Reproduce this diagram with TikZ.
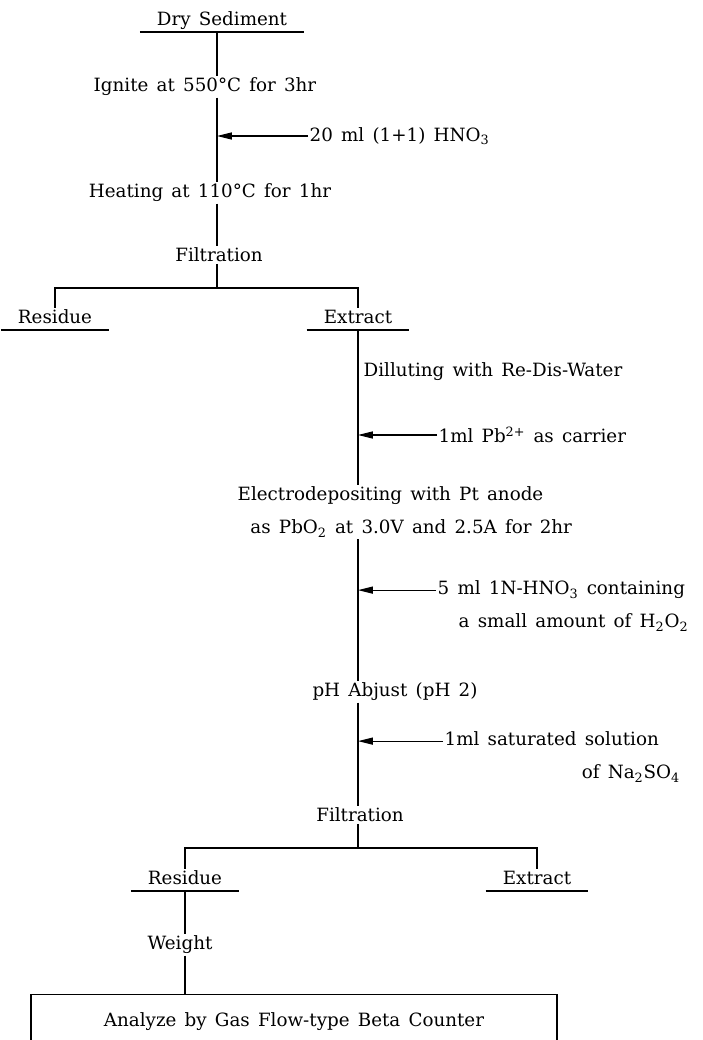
\documentclass[tikz,border=0pt]{standalone}
\usepackage{fontspec}
\setmainfont{DejaVu Serif}
\usetikzlibrary{arrows.meta}
\newcommand{\chartfont}{\fontsize{13}{23.5}\selectfont\spaceskip=0.45em plus 0.1em minus 0.05em\relax}

\begin{document}
\begin{tikzpicture}[
    x=0.025cm,y=-0.025cm,
    op/.style={font=\chartfont, inner sep=1pt},
    mat/.style={font=\chartfont, anchor=south, inner xsep=12pt, inner ysep=1.5pt,
      text height=9.5pt, text depth=3pt},
    add/.style={font=\chartfont, anchor=west, align=left, inner sep=1pt},
    flow/.style={line width=0.9pt},
    feed/.style={line width=0.8pt, -{Triangle[length=10.5pt,width=5pt]}},
    result/.style={draw, line width=0.9pt, font=\chartfont, anchor=north,
      minimum width=13.15cm, minimum height=1.35cm}
  ]
    \useasboundingbox (0,0) rectangle (703,1040);
    \clip (0,0) rectangle (703,1040);

    \coordinate (tee1) at (217,288);
    \coordinate (tee2) at (358,848);

    \node[mat] (dry) at (222,32) {Dry Sediment};
    \node[op] (ignite) at (205,87) {Ignite at 550°C for 3hr};
    \node[add] (acid) at (308,136) {20 ml (1+1) HNO\textsubscript{3}};
    \node[op] (heat) at (210,193) {Heating at 110°C for 1hr};
    \node[op] (filt1) at (219,255) {Filtration};
    \node[mat] (res1) at (55,330) {Residue};
    \node[mat] (ext1) at (358,330) {Extract};

    \node[add] (dilute) at (362,372) {Dilluting with Re-Dis-Water};
    \node[add] (carrier) at (437,435) {1ml Pb\textsuperscript{2+} as carrier};
    \node[add] (elec) at (236,512) {Electrodepositing with Pt anode\\
      \hspace*{0.7em}as PbO\textsubscript{2} at 3.0V and 2.5A for 2hr};
    \node[add] (peroxide) at (436,606) {5 ml 1N-HNO\textsubscript{3} containing\\
      \hspace*{1.15em}a small amount of H\textsubscript{2}O\textsubscript{2}};
    \node[op] (ph) at (395,692) {pH Abjust (pH 2)};
    \node[add] (sulfate) at (443,757) {1ml saturated solution\\
      \hspace*{7.5em}of Na\textsubscript{2}SO\textsubscript{4}};
    \node[op] (filt2) at (360,815) {Filtration};
    \node[mat] (res2) at (185,891) {Residue};
    \node[mat] (ext2) at (537,891) {Extract};
    \node[op] (weight) at (180,945) {Weight};
    \node[result] (count) at (294,994) {Analyze by Gas Flow-type Beta Counter};

    % underlines
    \foreach \n in {dry,res1,ext1,res2,ext2}
      \draw[flow] (\n.south west) -- (\n.south east);

    % ashing and leaching
    \draw[flow] (dry.south -| tee1) -- (ignite.north -| tee1);
    \draw[flow] (ignite.south -| tee1) -- (heat.north -| tee1);
    \draw[flow] (heat.south -| tee1) -- (filt1.north -| tee1);
    \draw[flow] (filt1.south -| tee1) -- (tee1);
    \draw[flow] (res1.north) |- (tee1) -| (ext1.north);
    \draw[feed] (acid.west) -- (acid.west -| tee1);

    % extract line
    \draw[flow] (ext1.south) -- (elec.north -| ext1.south);
    \draw[flow] (elec.south -| ext1.south) -- (ph.north -| ext1.south);
    \draw[flow] (ph.south -| ext1.south) -- (filt2.north -| ext1.south);
    \draw[flow] (filt2.south -| tee2) -- (tee2);
    \draw[flow] (res2.north) |- (tee2) -| (ext2.north);
    \draw[flow] (res2.south) -- (weight.north -| res2.south);
    \draw[flow] (weight.south -| res2.south) -- (count.north -| res2.south);

    % reagents
    \path ([yshift=11.3pt]peroxide.west) coordinate (in3)
      ([yshift=11.3pt]sulfate.west) coordinate (in4);
    \draw[feed] (carrier.west) -- (carrier.west -| ext1.south);
    \draw[feed] (in3) -- (in3 -| ext1.south);
    \draw[feed] (in4) -- (in4 -| ext1.south);
  \end{tikzpicture}
\end{document}
